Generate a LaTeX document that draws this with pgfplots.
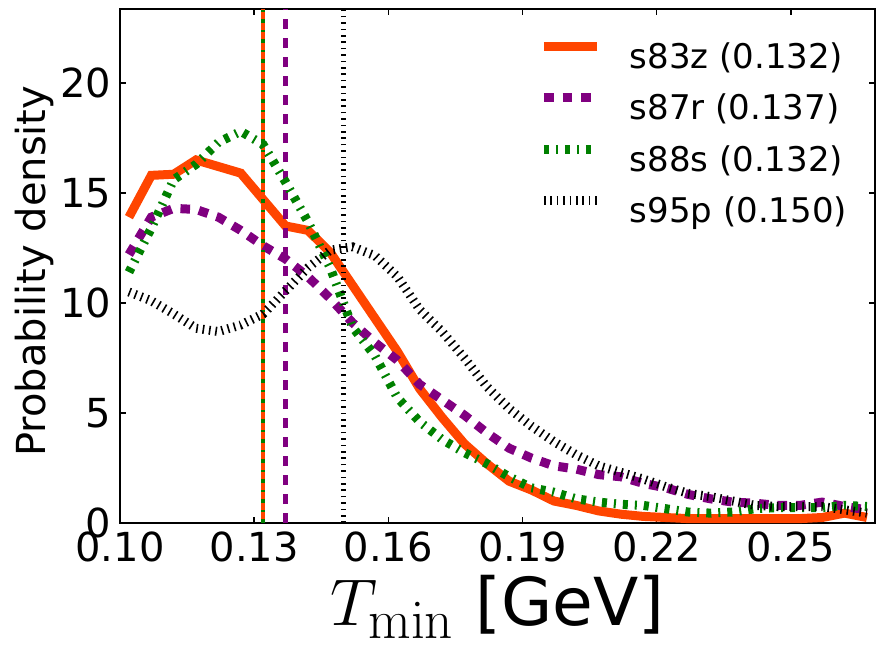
\documentclass[border=0pt]{standalone}
\usepackage[no-math]{fontspec}
\setmainfont{DejaVu Sans}
\usepackage{graphicx}
\usepackage{pgfplots}
\pgfplotsset{compat=1.18}
\definecolor{cOrange}{HTML}{FF4500}
\definecolor{cPurple}{HTML}{800080}
\definecolor{cGreen}{HTML}{008000}

% one row per curve point: T, s83z, s87r, s88s, s95p
\pgfplotstableread{
T      s83z  s87r  s88s  s95p
0.102  13.9  12.2  11.4  10.5
0.107  15.8  13.9  13.4  10.1
0.112  15.85 14.3  15.6  9.5
0.117  16.5  14.25 16.3  8.85
0.122  16.2  13.9  17.3  8.7
0.127  15.9  13.3  17.8  9.0
0.132  14.7  12.6  17.2  9.5
0.137  13.5  12.0  15.5  10.55
0.142  13.3  11.2  13.7  11.6
0.147  12.3  10.2  11.6  12.4
0.152  10.8  9.1   8.9   12.55
0.157  9.3   8.2   7.6   12.15
0.162  7.8   7.4   5.7   11.2
0.167  6.1   6.3   4.6   9.7
0.172  4.8   5.6   3.8   8.7
0.177  3.6   4.9   3.2   7.5
0.182  2.7   4.1   2.7   6.2
0.187  1.9   3.4   2.1   5.2
0.192  1.5   2.95  1.6   4.4
0.197  1.0   2.6   1.4   3.7
0.202  0.8   2.45  1.1   3.1
0.207  0.55  2.2   0.95  2.6
0.212  0.4   2.1   0.85  2.3
0.217  0.3   1.8   0.8   2.0
0.222  0.25  1.6   0.65  1.65
0.227  0.2   1.3   0.5   1.35
0.232  0.2   1.1   0.45  1.2
0.237  0.2   0.95  0.5   1.0
0.242  0.2   0.9   0.65  0.8
0.247  0.2   0.8   0.7   0.75
0.252  0.2   0.8   0.7   0.75
0.257  0.25  0.95  0.7   0.75
0.262  0.45  0.75  0.8   0.6
0.267  0.25  0.6   0.75  0.45
}\dens

\tikzset{
  s83z/.style={draw=cOrange, line width=4.5pt, solid},
  s87r/.style={draw=cPurple, line width=4.5pt, dash pattern=on 4.8pt off 4.5pt},
  s88s/.style={draw=cGreen, line width=4.5pt, dash pattern=on 2.5pt off 3.5pt on 1pt off 3.5pt},
  s95p/.style={draw=black, line width=4.5pt, dash pattern=on 0.8pt off 2.4pt},
}

\begin{document}
\begin{tikzpicture}
\useasboundingbox (-60pt,-61pt) rectangle (379.5pt,261.5pt);
\begin{axis}[
  scale only axis, width=377.5pt, height=257pt,
  xmin=0.10, xmax=0.2688, ymin=0, ymax=23.36,
  xtick={0.10,0.13,0.16,0.19,0.22,0.25},
  xticklabels={0.10,0.13,0.16,0.19,0.22,0.25},
  ytick={0,5,10,15,20}, yticklabels={0,5,10,15,20},
  tick align=inside, major tick length=3pt,
  every tick/.style={black, line width=0.75pt},
  axis line style={line width=0.75pt},
  ticklabel style={font=\fontsize{20}{24}\selectfont},
  xticklabel style={yshift=-1pt},
  yticklabel style={xshift=-1pt},
  xlabel={\scalebox{1.33}{\fontsize{24.88}{28}\selectfont$T_{\mathrm{min}}$ [GeV]}},
  xlabel style={at={(axis description cs:0.5,0)}, anchor=base, yshift=-51pt},
  ylabel={Probability density},
  ylabel style={font=\fontsize{20}{24}\selectfont, at={(axis description cs:-0.0993,0.49)},
                anchor=base},
  legend style={draw=none, fill=none, inner sep=0pt, at={(0.555,0.937)}, anchor=north west,
                font=\fontsize{17}{20}\selectfont, row sep=8.5pt, column sep=14.2pt,
                nodes={inner sep=0pt, text height=13pt, text depth=4pt}},
  legend cell align=left,
  legend image code/.code={\draw[#1] (0pt,6.5pt) -- (26.5pt,6.5pt);},
]
\addplot[s83z] table[x=T, y=s83z] {\dens};
\addlegendentry{s83z (0.132)}
\addplot[forget plot, draw=cOrange, line width=2.3pt] coordinates {(0.132,0) (0.132,23.36)};
\addplot[s87r] table[x=T, y=s87r] {\dens};
\addlegendentry{s87r (0.137)}
\addplot[forget plot, draw=cPurple, line width=2.5pt, dash pattern=on 5pt off 4.5pt] coordinates {(0.137,0) (0.137,23.36)};
\addplot[s88s] table[x=T, y=s88s] {\dens};
\addlegendentry{s88s (0.132)}
\addplot[forget plot, draw=cGreen, line width=2.1pt, dash pattern=on 2.2pt off 3.5pt on 0.8pt off 3.5pt] coordinates {(0.132,0) (0.132,23.36)};
\addplot[s95p] table[x=T, y=s95p] {\dens};
\addlegendentry{s95p (0.150)}
\addplot[forget plot, draw=black, line width=2.5pt, dash pattern=on 0.8pt off 2.4pt] coordinates {(0.150,0) (0.150,23.36)};
\end{axis}
\end{tikzpicture}
\end{document}
